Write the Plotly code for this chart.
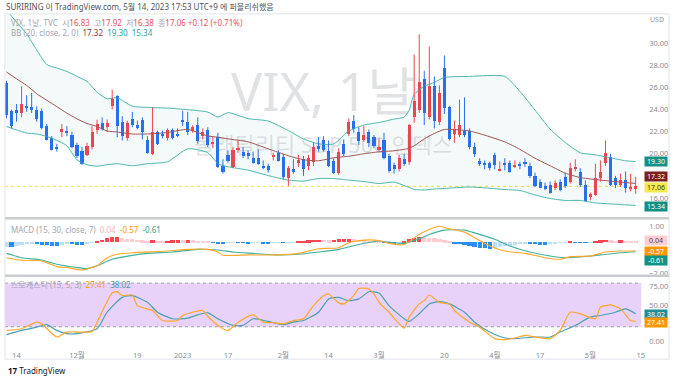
import plotly.graph_objects as go

W, H = 680, 382
FONT = "Noto Sans, Noto Sans CJK KR, sans-serif"

# ---------------- data ----------------
bar_idx = list(range(-2, 124))   # trading-day index, 0 = 2022-11-14

opens = [26.4, 23.9, 23.95, 23.7, 24.3, 24.2, 24.0, 23.9, 22.5, 21.4,
         20.55, 22.0, 22.1, 21.7, 20.8, 20.3, 19.9, 20.6, 22.2, 22.8,
         22.4, 24.3, 25.2, 22.9, 21.4, 23.2, 22.6, 23.1, 21.3, 20.0,
         22.0, 21.8, 21.4, 22.2, 21.8, 23.1, 22.9, 22.1, 22.6, 21.6,
         22.2, 20.9, 21.5, 18.9, 19.9, 18.8, 20.4, 20.2, 20.1, 19.6,
         19.6, 18.9, 18.9, 19.7, 20.1, 19.7, 17.8, 18.6, 19.2, 19.5,
         18.9, 19.3, 20.7, 21.3, 20.3, 19.4, 18.3, 20.9, 21.8, 23.0,
         22.0, 21.3, 22.0, 21.5, 20.4, 21.3, 19.8, 19.0, 18.6, 19.5,
         19.3, 23.3, 24.0, 26.8, 23.3, 26.1, 22.9, 27.8, 24.2, 21.8,
         21.7, 22.1, 22.1, 20.6, 19.4, 19.1, 19.2, 19.9, 18.5, 19.2,
         19.2, 18.9, 19.05, 19.2, 18.9, 18.0, 17.5, 17.1, 17.2, 16.9,
         17.5, 17.9, 17.5, 18.7, 18.4, 17.2, 16.1, 16.3, 17.8, 19.2,
         19.7, 17.8, 17.2, 17.6, 16.85, 16.83]
highs = [26.6, 24.0, 24.5, 26.1, 25.3, 25.5, 24.3, 24.1, 22.7, 21.6,
         20.9, 22.7, 22.5, 22.0, 21.0, 20.6, 21.0, 22.5, 23.1, 23.3,
         23.1, 25.8, 25.3, 23.4, 23.0, 23.8, 23.0, 23.3, 21.6, 24.2,
         22.1, 22.1, 22.3, 22.3, 22.3, 23.9, 23.8, 22.6, 23.3, 22.3,
         22.4, 21.5, 21.9, 19.5, 20.3, 20.6, 21.2, 20.6, 20.3, 20.2,
         20.4, 19.4, 19.1, 20.1, 20.3, 20.0, 18.9, 19.5, 19.9, 19.8,
         19.9, 21.0, 21.5, 21.6, 21.2, 19.6, 20.5, 21.3, 23.2, 23.5,
         22.4, 22.5, 22.2, 21.7, 21.4, 21.9, 20.0, 19.2, 19.9, 20.0,
         22.7, 28.97, 30.81, 27.5, 29.7, 27.0, 26.2, 28.9, 24.3, 23.0,
         24.9, 25.1, 22.3, 21.0, 19.6, 19.4, 19.3, 20.1, 19.3, 19.6,
         19.4, 19.4, 19.3, 19.6, 19.2, 18.3, 17.7, 17.4, 17.5, 17.6,
         17.7, 18.3, 19.2, 19.5, 18.7, 17.6, 16.5, 19.1, 19.4, 21.2,
         20.0, 18.0, 18.2, 18.4, 18.2, 17.92]
lows = [23.2, 22.3, 22.9, 23.3, 23.8, 23.7, 22.9, 22.2, 21.2, 20.3,
        20.2, 21.5, 21.6, 20.5, 19.6, 19.0, 19.8, 20.4, 21.8, 22.1,
        22.0, 24.0, 21.5, 21.2, 21.2, 22.4, 22.2, 21.3, 20.0, 19.9,
        20.8, 21.4, 21.2, 21.3, 21.5, 22.5, 21.7, 21.9, 20.9, 21.3,
        20.6, 20.5, 18.7, 18.2, 19.2, 18.7, 20.1, 19.6, 19.5, 19.1,
        19.0, 18.6, 18.3, 19.4, 19.3, 17.7, 17.1, 18.2, 18.8, 18.0,
        18.5, 18.9, 20.2, 20.2, 18.8, 18.2, 18.1, 19.8, 21.6, 21.9,
        20.8, 21.1, 20.6, 20.5, 20.2, 19.5, 18.3, 18.2, 18.4, 18.9,
        19.0, 22.8, 23.7, 22.6, 23.1, 22.3, 22.6, 23.6, 21.2, 21.0,
        21.5, 21.5, 20.4, 19.7, 18.9, 18.6, 18.5, 18.6, 18.4, 18.5,
        18.3, 18.7, 18.6, 18.8, 17.8, 17.0, 16.9, 16.7, 16.4, 16.7,
        16.6, 16.9, 17.3, 18.4, 17.0, 15.7, 15.8, 16.2, 17.5, 18.9,
        17.1, 16.9, 17.0, 16.5, 16.6, 16.38]
closes = [23.53, 22.52, 23.73, 24.54, 24.11, 23.93, 23.12, 22.36, 21.24, 20.35,
          20.45, 22.21, 21.89, 20.58, 19.84, 19.06, 20.75, 22.00, 22.68, 22.29,
          22.83, 25.00, 22.55, 21.6, 22.83, 22.62, 22.42, 21.97, 20.07, 21.97,
          20.87, 21.65, 22.14, 21.44, 21.67, 22.90, 22.01, 22.46, 21.13, 21.97,
          20.8, 21.09, 18.83, 18.35, 19.36, 20.34, 20.52, 19.85, 19.81, 19.20,
          19.08, 18.73, 18.51, 19.94, 19.40, 17.87, 18.73, 18.33, 19.43, 18.66,
          19.63, 20.63, 20.53, 20.34, 18.91, 18.23, 20.17, 20.02, 22.87, 22.29,
          21.14, 21.67, 20.95, 20.70, 20.58, 19.59, 18.49, 18.61, 19.59, 19.11,
          22.61, 24.80, 26.52, 23.73, 26.14, 22.99, 25.51, 24.12, 21.38, 22.26,
          22.61, 21.74, 20.60, 19.97, 19.12, 19.02, 18.70, 19.00, 18.58, 19.08,
          18.40, 18.97, 18.97, 19.09, 18.0, 17.07, 16.95, 16.83, 16.46, 17.39,
          16.77, 17.1, 18.76, 18.84, 17.2, 15.78, 16.35, 17.78, 18.34, 20.09,
          17.19, 17.2, 17.6, 16.94, 16.94, 17.06]

bb_idx = [-2, 0, 2, 4, 6, 8, 10, 12, 14, 16, 18, 20, 23, 26, 30, 34, 38, 40, 42, 46,
          50, 54, 57, 60, 63, 66, 69, 72, 75, 77, 78, 79, 81, 83, 85, 90, 97, 100, 103,
          106, 109, 112, 115, 118, 121, 123]
bb_upper = [33.0, 31.9, 30.85, 29.4, 28.07, 27.76, 27.44, 27.0, 26.55, 25.56, 24.98, 25.07,
            24.3, 24.2, 24.13, 23.99, 23.77, 23.32, 23.72, 23.18, 22.96, 22.1, 21.35, 20.9,
            20.9, 22.06, 22.6, 22.83, 23.14, 23.32, 23.95, 25.38, 26.1, 26.46, 26.9, 27.0,
            27.0, 25.65, 23.95, 22.24, 21.03, 20.09, 19.91, 19.64, 19.37, 19.30]
bb_basis = [27.4, 26.77, 26.19, 25.43, 24.84, 24.26, 23.68, 23.16, 22.74, 22.47, 22.06, 21.97,
            21.79, 21.79, 21.93, 22.2, 21.61, 21.5, 21.35, 21.08, 20.45, 19.82, 19.46, 19.37,
            19.64, 19.78, 20.0, 20.18, 20.27, 20.4, 20.5, 20.72, 21.35, 21.84, 22.2, 22.06,
            21.08, 20.4, 19.6, 18.92, 18.25, 17.85, 17.67, 17.53, 17.4, 17.32]
bb_lower = [22.47, 22.15, 21.88, 21.79, 21.57, 21.21, 20.72, 19.46, 19.01, 18.88, 19.01, 19.1,
            18.92, 19.1, 19.28, 20.45, 20.1, 19.1, 18.83, 18.52, 18.03, 17.62, 17.53, 17.76,
            17.76, 17.62, 17.49, 17.31, 17.44, 17.13, 16.95, 16.77, 16.73, 16.82, 16.86, 17.0,
            16.77, 16.68, 16.28, 15.96, 15.78, 15.78, 15.56, 15.47, 15.38, 15.34]

macd_hist = [-0.33, -0.35, -0.28, -0.2, -0.15, -0.1, -0.14, -0.18, -0.22, -0.26,
             -0.28, -0.22, -0.15, -0.16, -0.18, -0.2, -0.12, -0.04, 0.06, 0.15,
             0.24, 0.3, 0.35, 0.28, 0.22, 0.18, 0.15, 0.12, 0.08, 0.1,
             0.06, 0.05, 0.08, 0.1, 0.12, 0.1, 0.12, 0.1, 0.06, 0.04,
             0.02, -0.04, -0.08, -0.1, -0.06, -0.04, -0.05, -0.06, -0.08, -0.06,
             -0.05, -0.07, -0.08, -0.05, -0.03, -0.04, -0.02, -0.02, 0.03, 0.06,
             0.1, 0.14, 0.16, 0.15, 0.12, 0.16, 0.18, 0.2, 0.22, 0.17,
             0.13, 0.1, 0.08, 0.05, 0.03, -0.02, -0.05, -0.08, -0.06, 0.08,
             0.18, 0.28, 0.35, 0.3, 0.28, 0.24, 0.18, 0.12, 0.05, -0.08,
             -0.15, -0.22, -0.28, -0.32, -0.38, -0.42, -0.44, -0.38, -0.33, -0.28,
             -0.24, -0.2, -0.15, -0.12, -0.14, -0.16, -0.18, -0.2, -0.16, -0.1,
             -0.06, -0.03, 0.04, -0.02, -0.03, -0.05, -0.03, 0.06, 0.1, 0.14,
             0.1, 0.08, 0.1, 0.07, 0.05, 0.04]
macd_idx = [-2, 1, 5, 8, 10, 13, 16, 18, 20, 23, 30, 34, 38, 40, 41, 46, 52, 56, 58, 60,
            64, 66, 69, 72, 74, 77, 80, 82, 84, 86, 89, 91, 94, 97, 101, 105, 108, 110,
            114, 117, 120, 123]
macd_line = [-1.0, -1.17, -1.21, -1.58, -1.64, -1.79, -1.53, -1.0, -0.78, -0.68, -0.57, -0.46,
             -0.46, -0.63, -0.84, -0.82, -0.82, -0.72, -0.57, -0.42, -0.35, -0.03, 0.14, 0.12,
             -0.07, -0.14, 0.51, 0.83, 1.04, 0.87, 0.66, 0.29, -0.24, -0.57, -0.72, -1.0,
             -1.1, -0.93, -0.89, -0.63, -0.57, -0.57]
signal_idx = [-2, 1, 5, 8, 12, 14, 16, 19, 23, 26, 31, 36, 40, 43, 47, 52, 56, 60, 64, 68,
              72, 74, 77, 80, 82, 85, 89, 91, 95, 98, 102, 106, 109, 112, 116, 120, 123]
signal_line = [-0.72, -1.0, -1.15, -1.43, -1.64, -1.7, -1.53, -1.1, -0.85, -0.72, -0.63, -0.46,
               -0.5, -0.63, -0.72, -0.82, -0.78, -0.63, -0.46, -0.14, 0.08, 0.01, -0.07, 0.23,
               0.51, 0.79, 0.79, 0.61, 0.19, -0.24, -0.63, -0.89, -1.0, -0.95, -0.82, -0.68,
               -0.61]

stoch_k_idx = [-2, 1, 4, 5, 8, 10, 12, 15, 16, 19, 20, 21, 23, 24, 27, 29, 32, 33, 35, 37,
               38, 40, 42, 44, 47, 49, 51, 53, 55, 57, 59, 61, 62, 64, 65, 67, 68, 70, 71, 72,
               74, 77, 78, 80, 81, 82, 84, 86, 87, 90, 92, 95, 97, 99, 101, 103, 106, 108,
               110, 112, 115, 116, 118, 120, 122, 123]
stoch_k = [15.0, 17.3, 26.3, 24.1, 5.9, 12.7, 12.7, 13.6, 26.3, 66.4, 68.2, 62.8, 63.7, 49.1,
           42.3, 28.6, 28.6, 35.5, 40.0, 42.3, 34.5, 21.8, 15.0, 26.3, 36.4, 26.3, 25.5, 24.1,
           28.6, 31.0, 49.1, 62.8, 65.1, 52.8, 51.4, 62.8, 72.7, 71.9, 65.1, 53.6, 40.0, 18.2,
           33.2, 51.4, 55.9, 63.7, 53.6, 51.4, 42.3, 26.3, 19.5, 3.7, 2.3, 4.5, 8.2, 5.9, 3.7,
           15.0, 40.0, 37.8, 31.0, 46.8, 50.0, 44.6, 28.6, 27.41]
stoch_d_idx = [-2, 1, 4, 6, 8, 10, 12, 16, 18, 21, 23, 26, 28, 31, 34, 36, 38, 40, 43, 45,
               47, 50, 53, 55, 57, 60, 62, 64, 66, 68, 70, 72, 74, 77, 78, 80, 82, 84, 86, 89,
               91, 94, 97, 99, 103, 106, 108, 111, 114, 116, 119, 121, 123]
stoch_d = [9.1, 15.0, 19.5, 22.8, 15.0, 10.5, 10.5, 17.3, 40.0, 60.4, 62.8, 53.6, 40.0, 31.0,
           31.8, 36.4, 39.2, 31.0, 21.8, 21.8, 31.0, 27.3, 22.8, 26.3, 28.6, 40.0, 58.3, 60.4,
           55.9, 58.3, 68.2, 66.4, 49.1, 31.0, 27.3, 37.8, 51.4, 54.6, 51.4, 40.0, 26.3, 12.7,
           4.5, 3.7, 5.9, 5.9, 12.7, 21.8, 33.2, 35.5, 40.0, 44.6, 38.02]

tick_idx = [0, 12, 24, 33, 42, 53, 62, 72, 85, 95, 104, 114, 124]
tick_text = ['14', '12월', '19', '2023', '17', '2월', '14', '3월', '20', '4월', '17', '5월', '15']
price_ticks = [16, 20, 22, 24, 26, 28, 30]
macd_ticks = [1, -2]
stoch_ticks = [0, 50, 75]

# ---------------- styling ----------------
UP, DOWN = '#F0444F', '#2A6EF0'
TEAL = '#4DB6AC'
BASIS = '#A0554F'
ORANGE = '#FFA726'
STOCH_D = '#4A9FB5'

X_L, X_R = 5, 645
def py(px):
    return 1 - px / H

x_range = [-2.3, 124.1]

fig = go.Figure()

# Bollinger bands
fig.add_trace(go.Scatter(x=bb_idx, y=bb_upper, mode='lines', line=dict(color=TEAL, width=1, shape='spline', smoothing=0.6),
                         xaxis='x', yaxis='y', hoverinfo='skip'))
fig.add_trace(go.Scatter(x=bb_idx, y=bb_lower, mode='lines', line=dict(color=TEAL, width=1, shape='spline', smoothing=0.6),
                         fill='tonexty', fillcolor='rgba(38,166,154,0.05)', xaxis='x', yaxis='y', hoverinfo='skip'))
fig.add_trace(go.Scatter(x=bb_idx, y=bb_basis, mode='lines', line=dict(color=BASIS, width=1, shape='spline', smoothing=0.6),
                         xaxis='x', yaxis='y', hoverinfo='skip'))

# candles
for col, cond in ((UP, True), (DOWN, False)):
    wx, wy = [], []
    for i, o, h, l, c in zip(bar_idx, opens, highs, lows, closes):
        if (c >= o) == cond:
            wx += [i, i, None]
            wy += [l, h, None]
    fig.add_trace(go.Scatter(x=wx, y=wy, mode='lines', line=dict(color=col, width=1),
                             xaxis='x', yaxis='y', hoverinfo='skip'))
body_base = [min(o, c) for o, c in zip(opens, closes)]
body_h = [max(abs(c - o), 0.08) for o, c in zip(opens, closes)]
body_col = [UP if c >= o else DOWN for o, c in zip(opens, closes)]
fig.add_trace(go.Bar(x=bar_idx, y=body_h, base=body_base, width=0.62, marker=dict(color=body_col, line=dict(width=0)),
                     xaxis='x', yaxis='y', hoverinfo='skip'))

# MACD
hist_col = []
for k, h in enumerate(macd_hist):
    prev = macd_hist[k - 1] if k > 0 else h
    if h >= 0:
        hist_col.append('#F44750' if h >= prev else '#FFCDD2')
    else:
        hist_col.append('#2B8FF2' if h < prev else '#BBDEFB')
fig.add_trace(go.Bar(x=bar_idx, y=macd_hist, width=0.85, marker=dict(color=hist_col, line=dict(width=0)),
                     xaxis='x2', yaxis='y2', hoverinfo='skip'))
fig.add_trace(go.Scatter(x=signal_idx, y=signal_line, mode='lines', line=dict(color='#3FB09E', width=1.1, shape='spline', smoothing=0.6),
                         xaxis='x2', yaxis='y2', hoverinfo='skip'))
fig.add_trace(go.Scatter(x=macd_idx, y=macd_line, mode='lines', line=dict(color=ORANGE, width=1.1, shape='spline', smoothing=0.6),
                         xaxis='x2', yaxis='y2', hoverinfo='skip'))

# Stochastic
fig.add_trace(go.Scatter(x=stoch_d_idx, y=stoch_d, mode='lines', line=dict(color=STOCH_D, width=1.2, shape='spline', smoothing=0.6),
                         xaxis='x3', yaxis='y3', hoverinfo='skip'))
fig.add_trace(go.Scatter(x=stoch_k_idx, y=stoch_k, mode='lines', line=dict(color=ORANGE, width=1.2, shape='spline', smoothing=0.6),
                         xaxis='x3', yaxis='y3', hoverinfo='skip'))

xax = dict(domain=[X_L / W, X_R / W], range=x_range, showgrid=False, zeroline=False, showline=False,
           ticks='', showticklabels=False)
yax = dict(side='right', showgrid=False, zeroline=False, showline=False, ticks='',
           tickfont=dict(size=7.5, color='#8A8D96'), tickformat='.2f', ticklabelstandoff=7)

fig.update_layout(
    width=W, height=H, margin=dict(l=0, r=0, t=0, b=0),
    paper_bgcolor='white', plot_bgcolor='white', showlegend=False,
    font=dict(family=FONT, size=8, color='#787B86'),
    barmode='overlay', bargap=0,
    xaxis=dict(xax, anchor='y'),
    xaxis2=dict(xax, anchor='y2', matches='x'),
    xaxis3=dict(xax, anchor='y3', matches='x', showticklabels=True, tickvals=tick_idx, ticktext=tick_text,
                tickfont=dict(size=7.5, color='#8A8D96'), ticklabelstandoff=2),
    yaxis=dict(yax, anchor='x', domain=[py(219), py(14)], range=[14.26, 32.65], tickvals=price_ticks),
    yaxis2=dict(yax, anchor='x2', domain=[py(277), py(221)], range=[-2.112, 1.494], tickvals=macd_ticks),
    yaxis3=dict(yax, anchor='x3', domain=[py(350), py(279)], range=[-8.2, 88.7], tickvals=stoch_ticks),
)

shapes = []
# stochastic band
shapes.append(dict(type='rect', xref='x3 domain', x0=0, x1=1, yref='y3', y0=20, y1=80,
                   fillcolor='#E8D2FA', line=dict(width=0), layer='below'))
for lv in (20, 80):
    shapes.append(dict(type='line', xref='x3 domain', x0=0, x1=1, yref='y3', y0=lv, y1=lv,
                       line=dict(color='#9A9CA6', width=1, dash='3px,3px'), layer='below'))
# last close dotted line
shapes.append(dict(type='line', xref='x domain', x0=0, x1=1, yref='y', y0=closes[-1], y1=closes[-1],
                   line=dict(color='#F5DC45', width=1, dash='dot'), layer='below'))
# pane separators
for sp_ in (220, 278):
    shapes.append(dict(type='line', xref='paper', x0=X_L / W, x1=673 / W, yref='paper', y0=py(sp_), y1=py(sp_),
                       line=dict(color='#C9CBD1', width=2.5)))
# outer frame
shapes.append(dict(type='rect', xref='paper', x0=X_L / W, x1=673 / W, yref='paper', y0=py(362), y1=py(14),
                   line=dict(color='#E0E3EB', width=1), fillcolor='rgba(0,0,0,0)'))
# watermark (drawn below the traces)
shapes.append(dict(type='rect', xref='paper', x0=0.2, x1=0.756, yref='paper', y0=py(120), y1=py(70),
                   line=dict(width=0), fillcolor='rgba(0,0,0,0)', layer='below',
                   label=dict(text='VIX, 1날', font=dict(size=52, color='rgba(120,123,134,0.22)', family=FONT),
                              textposition='middle center')))
shapes.append(dict(type='rect', xref='paper', x0=0.2, x1=0.756, yref='paper', y0=py(160), y1=py(134),
                   line=dict(width=0), fillcolor='rgba(0,0,0,0)', layer='below',
                   label=dict(text='볼래틸리티 S&P 500 인덱스', font=dict(size=22, color='rgba(120,123,134,0.22)', family=FONT),
                              textposition='middle center')))
fig.update_layout(shapes=shapes)

RED = '#F0505C'
def sp(t, c):
    return f"<span style='color:{c}'>{t}</span>"

chg = closes[-1] - closes[-2]
pct = chg / closes[-2] * 100
legend1 = (sp('VIX, 1날, TVC', '#A3A6AF') + '\u00a0\u00a0' +
           sp('시', '#A3A6AF') + sp(f'{opens[-1]:.2f}', RED) + '\u00a0\u00a0' +
           sp('고', '#A3A6AF') + sp(f'{highs[-1]:.2f}', RED) + '\u00a0\u00a0' +
           sp('저', '#A3A6AF') + sp(f'{lows[-1]:.2f}', RED) + '\u00a0\u00a0' +
           sp('종', '#A3A6AF') + sp(f'{closes[-1]:.2f} {chg:+.2f} ({pct:+.2f}%)', RED))
legend2 = (sp('BB (20, close, 2, 0)', '#A3A6AF') + '\u00a0\u00a0' + sp(f'{bb_basis[-1]:.2f}', '#8E3A3A') +
           '\u00a0\u00a0' + sp(f'{bb_upper[-1]:.2f}', '#26A69A') + '\u00a0\u00a0' + sp(f'{bb_lower[-1]:.2f}', '#26A69A'))
legend3 = (sp('MACD (15, 30, close, 7)', '#A3A6AF') + '\u00a0\u00a0' + sp(f'{macd_hist[-1]:.2f}', '#F8B4BC') +
           '\u00a0\u00a0' + sp(f'{macd_line[-1]:.2f}', '#FF9800') + '\u00a0\u00a0' + sp(f'{signal_line[-1]:.2f}', '#26A69A'))
legend4 = (sp('스토캐스틱 (15, 5, 3)', '#A3A6AF') + '\u00a0\u00a0' + sp(f'{stoch_k[-1]:.2f}', '#FF9800') +
           '\u00a0\u00a0' + sp(f'{stoch_d[-1]:.2f}', '#3D98B0'))

ann = []
def txt(x, y, text, size=8, color='#4A4D55'):
    ann.append(dict(xref='paper', yref='paper', x=x / W, y=py(y), text=text, showarrow=False,
                    xanchor='left', yanchor='middle', font=dict(size=size, color=color, family=FONT)))

txt(4, 7, 'SURIRING 이 TradingView.com, 5월 14, 2023 17:53 UTC+9 에 퍼블리쉬했음', 8, '#50535E')
txt(9, 23, legend1, 8)
txt(9, 33, legend2, 8)
txt(9, 231, legend3, 8)
txt(9, 287, legend4, 8)
txt(652, 20, 'USD', 7, '#9598A1')
txt(6, 373, '<b>17</b> TradingView', 8, '#131722')

def tag(yref, val, bg, fg='white', yshift=0):
    ann.append(dict(xref='paper', yref=yref, x=659.5 / W, y=val, text=f'{val:.2f}', showarrow=False,
                    xanchor='center', yanchor='middle', yshift=yshift, bgcolor=bg, borderpad=0.5,
                    height=8, width=21, font=dict(size=7, color=fg, family=FONT)))

tag('y', bb_upper[-1], '#138F84')
tag('y', bb_basis[-1], '#7B1E1E', yshift=7)
tag('y', closes[-1], '#F7E94A', '#3A3A2A', yshift=-1)
tag('y', bb_lower[-1], '#138F84', yshift=-1)
tag('y2', macd_hist[-1], '#FFCDD2', '#6B3A3A', yshift=1)
tag('y2', macd_line[-1], '#FF9800', yshift=-0.5)
tag('y2', signal_line[-1], '#0E9484', yshift=-9)
tag('y3', stoch_d[-1], '#1F8E96', yshift=-1)
tag('y3', stoch_k[-1], '#FF9800', yshift=-1)

fig.update_layout(annotations=ann)
fig.write_html('out.html')
